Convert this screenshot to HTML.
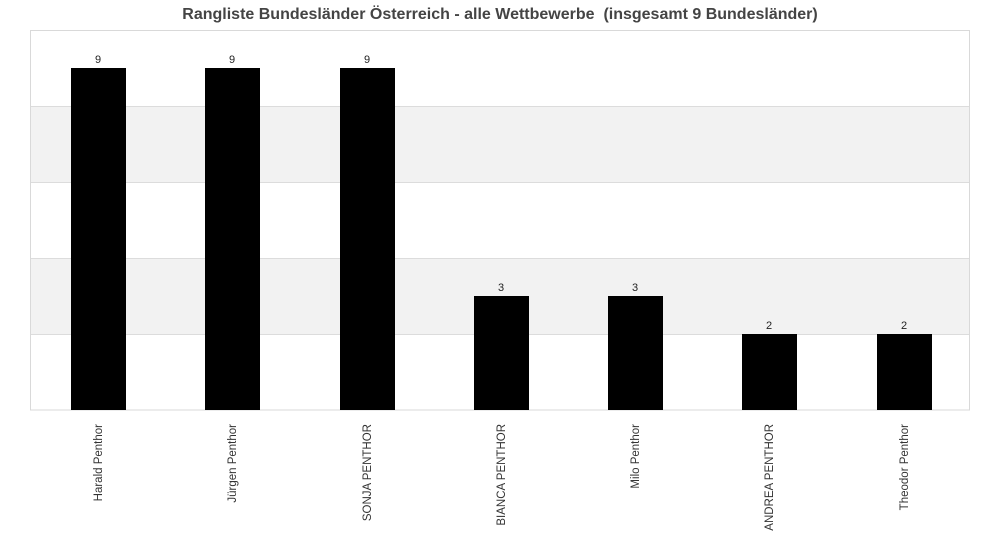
<!DOCTYPE html>
<html><head><meta charset="utf-8"><style>body{margin:0;background:#fff}svg{display:block}</style></head><body>
<svg width="1000" height="550" xmlns="http://www.w3.org/2000/svg" font-family="Liberation Sans, Arial, sans-serif">
<rect width="1000" height="550" fill="#fff"/>
<text x="500" y="19" text-anchor="middle" font-size="16" font-weight="bold" fill="#444" xml:space="preserve">Rangliste Bundesländer Österreich - alle Wettbewerbe  (insgesamt 9 Bundesländer)</text>
<rect x="30.5" y="106" width="939" height="76" fill="#f2f2f2"/>
<rect x="30.5" y="258" width="939" height="76" fill="#f2f2f2"/>
<g stroke="#dcdcdc" stroke-width="1">
<line x1="30" y1="106.5" x2="970" y2="106.5"/>
<line x1="30" y1="182.5" x2="970" y2="182.5"/>
<line x1="30" y1="258.5" x2="970" y2="258.5"/>
<line x1="30" y1="334.5" x2="970" y2="334.5"/>
</g>
<rect x="30.5" y="30.5" width="939" height="379.5" fill="none" stroke="#d9d9d9"/>
<g fill="#000">
<rect x="71" y="68" width="55" height="342"/>
<rect x="205" y="68" width="55" height="342"/>
<rect x="340" y="68" width="55" height="342"/>
<rect x="474" y="296" width="55" height="114"/>
<rect x="608" y="296" width="55" height="114"/>
<rect x="742" y="334" width="55" height="76"/>
<rect x="877" y="334" width="55" height="76"/>
</g>
<g font-size="11" text-anchor="middle" fill="#222">
<text x="98" y="63">9</text><text x="232" y="63">9</text><text x="367" y="63">9</text>
<text x="501" y="291">3</text><text x="635" y="291">3</text>
<text x="769" y="329">2</text><text x="904" y="329">2</text>
</g>
<g font-size="11.5" fill="#333" text-anchor="end">
<text transform="translate(102,424) rotate(-90)">Harald Penthor</text>
<text transform="translate(236,424) rotate(-90)">Jürgen Penthor</text>
<text transform="translate(371,424) rotate(-90)">SONJA PENTHOR</text>
<text transform="translate(505,424) rotate(-90)">BIANCA PENTHOR</text>
<text transform="translate(639,424) rotate(-90)">Milo Penthor</text>
<text transform="translate(773,424) rotate(-90)">ANDREA PENTHOR</text>
<text transform="translate(908,424) rotate(-90)">Theodor Penthor</text>
</g>
</svg>
</body></html>
